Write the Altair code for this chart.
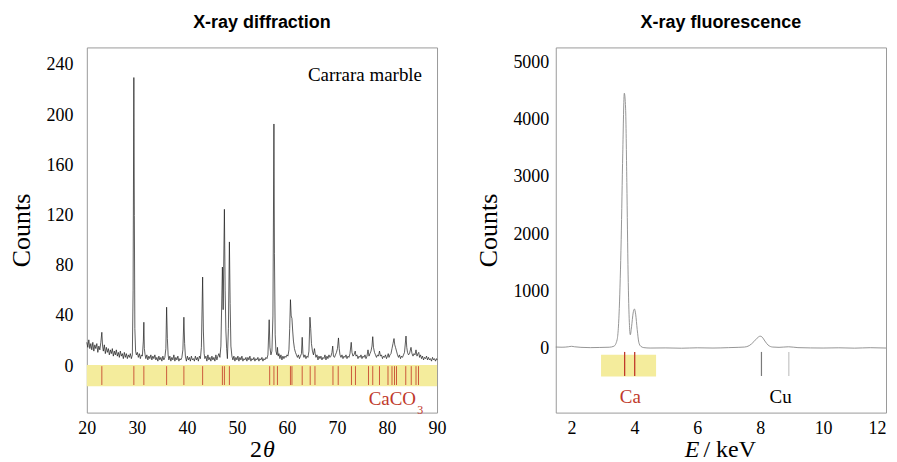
import altair as alt
import pandas as pd

# ---------------- data ----------------
# X-ray diffraction scan of Carrara marble (2theta, counts)
xrd_scan = [
    (20.0, 19), (20.2, 15), (20.4, 21), (20.6, 14), (20.8, 18), (21.0, 13), (21.2, 19),
    (21.4, 12), (21.6, 17), (21.8, 14), (22.0, 18), (22.2, 11), (22.4, 16), (22.6, 13),
    (22.8, 19), (23.0, 27), (23.15, 16), (23.3, 12), (23.5, 17), (23.7, 10), (23.9, 15),
    (24.1, 11), (24.3, 14), (24.5, 9), (24.7, 13), (24.9, 10), (25.1, 14), (25.3, 8),
    (25.5, 12), (25.7, 9), (25.9, 13), (26.1, 8), (26.3, 11), (26.5, 7), (26.7, 12),
    (26.9, 8), (27.1, 10), (27.3, 6), (27.5, 11), (27.7, 7), (27.9, 10), (28.1, 6),
    (28.3, 9), (28.5, 7), (28.7, 10), (28.9, 6), (29.1, 9), (29.25, 60), (29.4, 230),
    (29.5, 120), (29.6, 30), (29.75, 12), (29.9, 9), (30.1, 11), (30.3, 7), (30.5, 10),
    (30.7, 6), (30.9, 9), (31.1, 8), (31.3, 20), (31.4, 35), (31.5, 14), (31.65, 9),
    (31.8, 6), (32.0, 9), (32.2, 5), (32.4, 8), (32.6, 6), (32.8, 9), (33.0, 5),
    (33.2, 8), (33.4, 6), (33.6, 9), (33.8, 5), (34.0, 7), (34.2, 4), (34.4, 8),
    (34.6, 5), (34.8, 7), (35.0, 4), (35.2, 8), (35.4, 5), (35.6, 7), (35.8, 14),
    (35.95, 47), (36.1, 22), (36.25, 9), (36.4, 5), (36.6, 8), (36.8, 4), (37.0, 7),
    (37.2, 5), (37.4, 9), (37.6, 4), (37.8, 7), (38.0, 5), (38.2, 8), (38.4, 4),
    (38.6, 6), (38.8, 5), (39.0, 7), (39.2, 13), (39.4, 39), (39.55, 18), (39.7, 8),
    (39.9, 4), (40.1, 8), (40.3, 5), (40.5, 7), (40.7, 4), (40.9, 8), (41.1, 5),
    (41.3, 6), (41.5, 4), (41.7, 8), (41.9, 5), (42.1, 7), (42.3, 4), (42.5, 8),
    (42.7, 6), (42.9, 15), (43.15, 71), (43.3, 28), (43.45, 10), (43.6, 6), (43.8, 8),
    (44.0, 4), (44.2, 9), (44.4, 5), (44.6, 7), (44.8, 4), (45.0, 8), (45.2, 5),
    (45.4, 7), (45.6, 4), (45.8, 9), (46.0, 5), (46.2, 8), (46.4, 10), (46.6, 7),
    (46.8, 16), (47.1, 79), (47.25, 45), (47.5, 125), (47.65, 60), (47.8, 28),
    (47.95, 14), (48.1, 6), (48.3, 30), (48.5, 99), (48.65, 50), (48.8, 16), (49.0, 8),
    (49.2, 5), (49.4, 8), (49.6, 4), (49.8, 7), (50.0, 5), (50.2, 8), (50.4, 4),
    (50.6, 7), (50.8, 5), (51.0, 8), (51.2, 4), (51.4, 6), (51.6, 5), (51.8, 7),
    (52.0, 4), (52.2, 7), (52.4, 5), (52.6, 8), (52.8, 4), (53.0, 6), (53.2, 5),
    (53.4, 7), (53.6, 4), (53.8, 6), (54.0, 5), (54.2, 7), (54.4, 4), (54.6, 6),
    (54.8, 5), (55.0, 7), (55.2, 4), (55.4, 6), (55.6, 5), (55.8, 7), (56.0, 6),
    (56.2, 9), (56.45, 37), (56.6, 15), (56.8, 9), (57.0, 12), (57.2, 40), (57.4, 193),
    (57.5, 90), (57.65, 25), (57.8, 12), (58.0, 9), (58.1, 15), (58.25, 8), (58.4, 10),
    (58.6, 6), (58.8, 9), (59.0, 5), (59.2, 8), (59.4, 6), (59.6, 8), (59.8, 7),
    (60.0, 9), (60.2, 8), (60.4, 13), (60.55, 30), (60.7, 53), (60.85, 40), (61.0, 38),
    (61.15, 28), (61.3, 20), (61.5, 14), (61.7, 11), (61.9, 9), (62.1, 7), (62.3, 9),
    (62.5, 6), (62.7, 8), (62.9, 10), (63.05, 23), (63.2, 10), (63.4, 7), (63.6, 9),
    (63.8, 6), (64.0, 8), (64.2, 7), (64.4, 12), (64.6, 39), (64.75, 30), (64.9, 18),
    (65.1, 12), (65.3, 9), (65.5, 14), (65.65, 10), (65.8, 7), (66.0, 9), (66.2, 5),
    (66.4, 8), (66.6, 6), (66.8, 8), (67.0, 5), (67.2, 7), (67.4, 6), (67.6, 9),
    (67.8, 5), (68.0, 8), (68.2, 6), (68.4, 9), (68.6, 7), (68.8, 8), (69.0, 11),
    (69.15, 16), (69.3, 8), (69.5, 7), (69.7, 9), (69.9, 11), (70.1, 14), (70.3, 22.5),
    (70.45, 14), (70.6, 9), (70.8, 7), (71.0, 9), (71.2, 6), (71.4, 8), (71.6, 7),
    (71.8, 9), (72.0, 6), (72.2, 8), (72.4, 7), (72.6, 10), (72.85, 19), (73.0, 11),
    (73.2, 8), (73.4, 9), (73.65, 12), (73.8, 8), (74.0, 9), (74.2, 6), (74.4, 8),
    (74.6, 7), (74.8, 9), (75.0, 6), (75.2, 8), (75.4, 7), (75.6, 9), (75.8, 6),
    (76.0, 8), (76.2, 13), (76.4, 8), (76.6, 10), (76.8, 12), (77.0, 16), (77.15, 23.5),
    (77.3, 15), (77.5, 11), (77.7, 9), (77.9, 7), (78.1, 9), (78.3, 8), (78.5, 12),
    (78.7, 8), (78.9, 9), (79.1, 6), (79.3, 8), (79.5, 7), (79.7, 9), (79.9, 6),
    (80.1, 8), (80.25, 10), (80.4, 7), (80.6, 9), (80.8, 10), (81.0, 14), (81.2, 18),
    (81.4, 22), (81.55, 17), (81.7, 15), (81.9, 12), (82.1, 9), (82.3, 7), (82.5, 9),
    (82.7, 6), (82.9, 8), (83.1, 7), (83.3, 9), (83.5, 11), (83.8, 24), (83.95, 15),
    (84.1, 11), (84.3, 9), (84.5, 10), (84.8, 15), (85.0, 10), (85.2, 8), (85.4, 10),
    (85.6, 9), (85.8, 13), (86.0, 8), (86.2, 10), (86.35, 11), (86.5, 7), (86.7, 9),
    (86.9, 6), (87.1, 8), (87.3, 5), (87.5, 7), (87.7, 6), (87.9, 8), (88.1, 5),
    (88.3, 7), (88.5, 5), (88.7, 6), (88.9, 4), (89.1, 7), (89.3, 5), (89.5, 6),
    (89.7, 4), (89.9, 6), (90.0, 5),
]
xrd_2theta = [p[0] for p in xrd_scan]
xrd_counts = [p[1] for p in xrd_scan]

# CaCO3 (calcite) reference reflections, 2theta
calcite_ref = [23.0, 29.4, 31.4, 35.95, 39.4, 43.15, 47.1, 47.5, 48.5, 56.55, 57.4,
               58.1, 60.7, 61.0, 63.05, 64.65, 65.6, 69.2, 70.25, 72.9, 73.7, 76.3,
               77.15, 78.5, 80.2, 81.0, 81.5, 81.9, 83.75, 84.85, 85.8, 86.3]
xrd_band_2theta = [20, 90]
xrd_band_counts = [1, -16]

# X-ray fluorescence spectrum (energy keV, counts)
xrf_scan = [
    (1.5, 25), (1.7, 22), (1.9, 30), (2.0, 38), (2.1, 30), (2.3, 20), (2.6, 15),
    (2.9, 18), (3.2, 22), (3.35, 40), (3.45, 150), (3.52, 700), (3.58, 1900),
    (3.63, 3400), (3.68, 4460), (3.72, 4200), (3.76, 2900), (3.8, 1300), (3.84, 450),
    (3.87, 240), (3.91, 380), (3.96, 620), (4.0, 690), (4.04, 600), (4.09, 330),
    (4.14, 110), (4.2, 40), (4.3, 15), (4.5, 8), (5.0, 10), (5.5, 5), (6.0, 12),
    (6.5, 8), (7.0, 15), (7.3, 20), (7.5, 25), (7.65, 50), (7.8, 120), (7.9, 180),
    (8.0, 215), (8.06, 200), (8.15, 130), (8.25, 60), (8.4, 25), (8.6, 20), (8.9, 30),
    (9.2, 15), (9.6, 10), (10.0, 8), (10.5, 12), (11.0, 6), (11.5, 14), (12.0, 8),
]
xrf_energy = [p[0] for p in xrf_scan]
xrf_counts = [p[1] for p in xrf_scan]

ca_lines = [3.69, 4.01]
cu_lines = [8.04, 8.91]
cu_line_kind = ["Ka", "Kb"]
xrf_band_energy = [2.94, 4.69]
xrf_band_counts = [-110, -490]

xrd_ticks = [20, 30, 40, 50, 60, 70, 80, 90]
xrd_yticks = [0, 40, 80, 120, 160, 200, 240]
xrf_ticks = [2, 4, 6, 8, 10, 12]
xrf_yticks = [0, 1000, 2000, 3000, 4000, 5000]

# ---------------- styling ----------------
SERIF = "Liberation Serif"
SANS = "Liberation Sans"
YELLOW = "#f4ec9c"
RED = "#c0392b"
REF_RED = "#cc5a3c"

W_L, W_R, H = 351, 331, 366

# ---------------- left: XRD ----------------
xs_l = alt.Scale(domain=[20, 90], nice=False, zero=False)
ys_l = alt.Scale(domain=[-37, 254], nice=False, zero=False)
xax_l = alt.Axis(values=xrd_ticks, labelPadding=7, title=None, labelFlush=False)
yax_l = alt.Axis(values=xrd_yticks, labelPadding=14, titlePadding=11, title="Counts", format="d")

band_l = alt.Chart(pd.DataFrame({
    "x": [xrd_band_2theta[0]], "x2": [xrd_band_2theta[1]],
    "y": [xrd_band_counts[0]], "y2": [xrd_band_counts[1]]})
).mark_rect(color=YELLOW).encode(
    x=alt.X("x:Q", scale=xs_l, axis=xax_l), x2="x2",
    y=alt.Y("y:Q", scale=ys_l, axis=yax_l), y2="y2")

refs_l = alt.Chart(pd.DataFrame({"x": calcite_ref})).mark_rule(
    color=REF_RED, strokeWidth=1).encode(
    x=alt.X("x:Q", scale=xs_l, axis=xax_l),
    y=alt.datum(0, scale=ys_l), y2=alt.datum(-15))

line_l = alt.Chart(pd.DataFrame({"x": xrd_2theta, "y": xrd_counts})).mark_line(
    color="#1a1a1a", strokeWidth=0.7).encode(
    x=alt.X("x:Q", scale=xs_l, axis=xax_l),
    y=alt.Y("y:Q", scale=ys_l, axis=yax_l))

def txt(text, x, y, size=18, color="black", align="center", style="normal", dx=0):
    return alt.Chart(pd.DataFrame({"t": [text]})).mark_text(
        font=SERIF, fontSize=size, color=color, align=align, baseline="alphabetic",
        fontStyle=style, dx=dx).encode(
        x=alt.datum(x), y=alt.datum(y), text="t:N")

left = alt.layer(
    band_l, refs_l, line_l,
    txt("Carrara marble", 87.0, 227.3, size=19, align="right"),
    txt("CaCO", 85.8, -31.2, size=19, color=RED, align="right"),
    txt("3", 86.05, -37.8, size=12, color=RED, align="left"),
    txt("2", 55.0, -72.0, size=24, align="right"),
    txt("θ", 55.0, -72.0, size=24, align="left", style="italic", dx=1),
).properties(width=W_L, height=H,
             title=alt.TitleParams("X-ray diffraction"))

# ---------------- right: XRF ----------------
xs_r = alt.Scale(domain=[1.5, 12], nice=False, zero=False)
ys_r = alt.Scale(domain=[-1120, 5260], nice=False, zero=False)
xax_r = alt.Axis(values=xrf_ticks, labelPadding=7, title=None, labelFlush=False,
                 labelAlign=alt.expr("datum.value >= 12 ? 'right' : 'center'"))
yax_r = alt.Axis(values=xrf_yticks, labelPadding=7, titlePadding=11, title="Counts", format="d")

band_r = alt.Chart(pd.DataFrame({
    "x": [xrf_band_energy[0]], "x2": [xrf_band_energy[1]],
    "y": [xrf_band_counts[0]], "y2": [xrf_band_counts[1]]})
).mark_rect(color=YELLOW).encode(
    x=alt.X("x:Q", scale=xs_r, axis=xax_r), x2="x2",
    y=alt.Y("y:Q", scale=ys_r, axis=yax_r), y2="y2")

ca_r = alt.Chart(pd.DataFrame({"x": ca_lines})).mark_rule(
    color=RED, strokeWidth=1.3).encode(
    x=alt.X("x:Q", scale=xs_r, axis=xax_r),
    y=alt.datum(-60, scale=ys_r), y2=alt.datum(-480))

cu_r = alt.Chart(pd.DataFrame({"x": cu_lines, "k": cu_line_kind})).mark_rule(
    strokeWidth=1.2).encode(
    x=alt.X("x:Q", scale=xs_r, axis=xax_r),
    y=alt.datum(-60, scale=ys_r), y2=alt.datum(-480),
    color=alt.Color("k:N", scale=alt.Scale(domain=cu_line_kind, range=["#7a7a7a", "#c4c4c4"]),
                    legend=None))

line_r = alt.Chart(pd.DataFrame({"x": xrf_energy, "y": xrf_counts})).mark_line(
    color="#8a8a8a", strokeWidth=0.9, interpolate="monotone").encode(
    x=alt.X("x:Q", scale=xs_r, axis=xax_r),
    y=alt.Y("y:Q", scale=ys_r, axis=yax_r))

right = alt.layer(
    band_r, ca_r, cu_r, line_r,
    txt("Ca", 3.87, -959, size=19, color=RED),
    txt("Cu", 8.65, -959, size=19),
    txt("E", 6.1, -1890, size=24, align="right", style="italic", dx=-1),
    txt("/ keV", 6.1, -1890, size=24, align="left", dx=3),
).properties(width=W_R, height=H,
             title=alt.TitleParams("X-ray fluorescence"))

chart = alt.hconcat(left, right, spacing=28).properties(
    padding={"left": 0, "top": 5, "right": 0, "bottom": 0}
).configure_view(
    stroke="#9a9a9a", strokeWidth=1
).configure_axis(
    labelFont=SERIF, labelFontSize=18, labelColor="black",
    titleFont=SERIF, titleFontSize=26, titleFontWeight="normal", titleColor="black",
    ticks=False, domain=False, grid=False
).configure_title(
    font=SANS, fontSize=18, fontWeight="bold", color="black", anchor="middle", offset=15
)

chart.save("out.html", embed_options={"renderer": "svg", "actions": False})
